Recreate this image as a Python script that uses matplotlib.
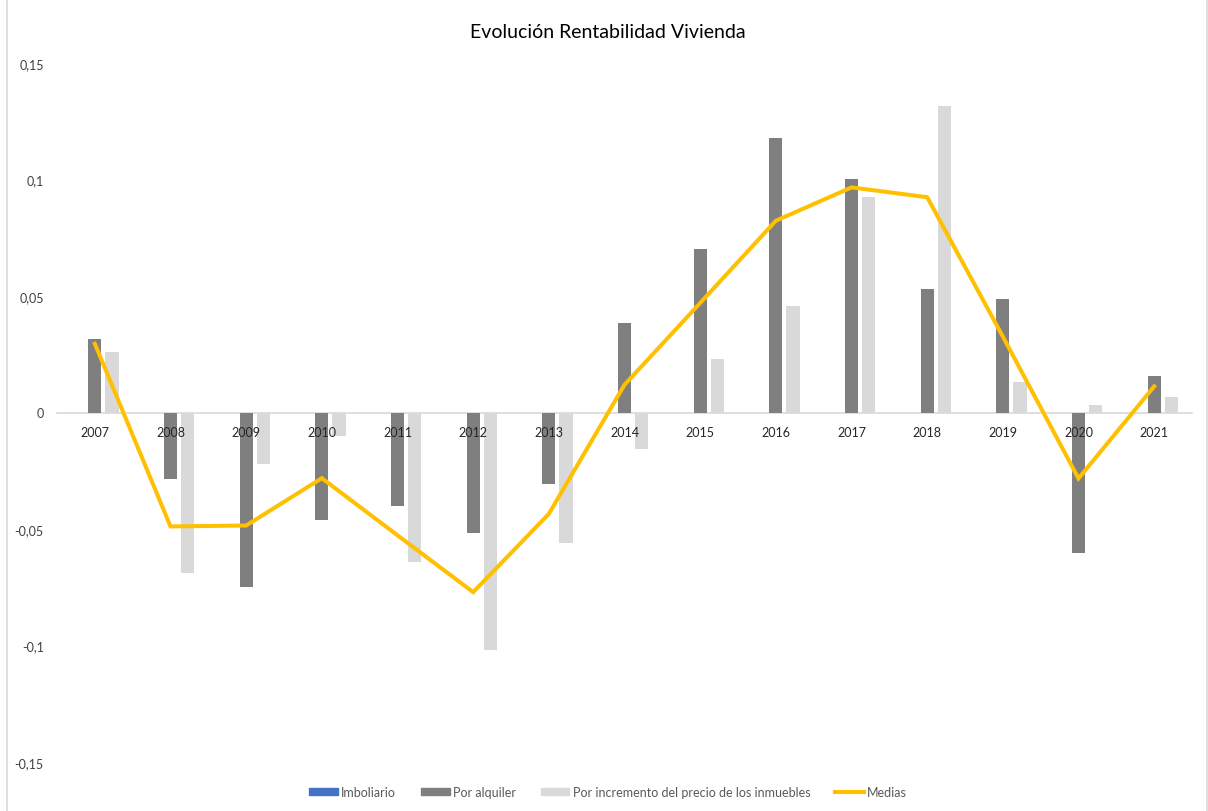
import matplotlib
matplotlib.use("Agg")
import matplotlib.pyplot as plt
import numpy as np
from matplotlib.lines import Line2D
from matplotlib.patches import Rectangle

years = ["2007", "2008", "2009", "2010", "2011", "2012", "2013", "2014",
         "2015", "2016", "2017", "2018", "2019", "2020", "2021"]
imboliario = [0, 0, 0, 0, 0, 0, 0, 0, 0, 0, 0, 0, 0, 0, 0]
por_alquiler = [0.0315, -0.0286, -0.0751, -0.046, -0.040, -0.0518, -0.0306, 0.0382,
                0.0703, 0.118, 0.1003, 0.0531, 0.0487, -0.0602, 0.0155]
por_incremento = [0.026, -0.069, -0.022, -0.010, -0.0642, -0.1021, -0.0558, -0.0157,
                  0.0228, 0.0458, 0.0926, 0.1316, 0.0133, 0.0033, 0.0066]
medias = [0.0295, -0.0489, -0.0485, -0.0282, -0.0527, -0.0771, -0.0435, 0.0119,
          0.047, 0.0823, 0.0966, 0.0924, 0.0326, -0.0283, 0.0112]
yticks = [-0.15, -0.1, -0.05, 0, 0.05, 0.1, 0.15]
ytick_labels = ["-0,15", "-0,1", "-0,05", "0", "0,05", "0,1", "0,15"]
title = "Evolución Rentabilidad Vivienda"
series_names = ["Imboliario", "Por alquiler",
                "Por incremento del precio de los inmuebles", "Medias"]

plt.rcParams['font.family'] = ['Lato', 'DejaVu Sans']

W, H = 1208, 812
fig = plt.figure(figsize=(W / 100, H / 100), dpi=100)
ax = fig.add_axes([57 / W, (H - 763) / H, (1192 - 57) / W, (763 - 64) / H])

x = np.arange(len(years))
off = 0.228
bw = 0.175
c_blue, c_dark, c_light, c_yel = "#4472C4", "#7F7F7F", "#D9D9D9", "#FFC000"
ax.bar(x - off, imboliario, bw, color=c_blue, zorder=2)
ax.bar(x, por_alquiler, bw, color=c_dark, zorder=2)
ax.bar(x + off, por_incremento, bw, color=c_light, zorder=2)
ax.plot(x, medias, color=c_yel, lw=2.9, zorder=4, solid_joinstyle='miter')

ax.set_axisbelow(False)
ax.set_xlim(-0.5, len(years) - 0.5)
ax.set_ylim(-0.15, 0.15)
ax.set_yticks(yticks)
ax.set_yticklabels(ytick_labels)
ax.set_xticks(x)
ax.set_xticklabels(years)
for s in ["top", "right", "left"]:
    ax.spines[s].set_visible(False)
ax.spines["bottom"].set_position(("data", 0))
ax.spines["bottom"].set_color("#D9D9D9")
ax.spines["bottom"].set_linewidth(1.2)
ax.spines["bottom"].set_zorder(1)
ax.tick_params(axis="x", length=0, pad=10, labelsize=9, labelcolor="#262626")
ax.tick_params(axis="y", length=0, pad=9.5, labelsize=9, labelcolor="#404040")

fig.text(608 / W, 1 - 32 / H, title, ha="center", va="center", fontsize=14, color="#000000")

handles = [Rectangle((0, 0), 1, 1, color=c_blue),
           Rectangle((0, 0), 1, 1, color=c_dark),
           Rectangle((0, 0), 1, 1, color=c_light),
           Line2D([0], [0], color=c_yel, lw=3)]
leg = fig.legend(handles, series_names, loc="center", ncol=4,
                 bbox_to_anchor=(608 / W, 1 - 793 / H), frameon=False,
                 fontsize=9, handlelength=2.3, handleheight=0.55, handletextpad=0.25,
                 columnspacing=2.0)
for t in leg.get_texts():
    t.set_color("#595959")

# chart-area border
fig.add_artist(Rectangle((7 / W, -0.01), 1200 / W, 1.05, transform=fig.transFigure,
                         fill=False, edgecolor="#D9D9D9", lw=1.2))

fig.savefig("out.png", dpi=100)
